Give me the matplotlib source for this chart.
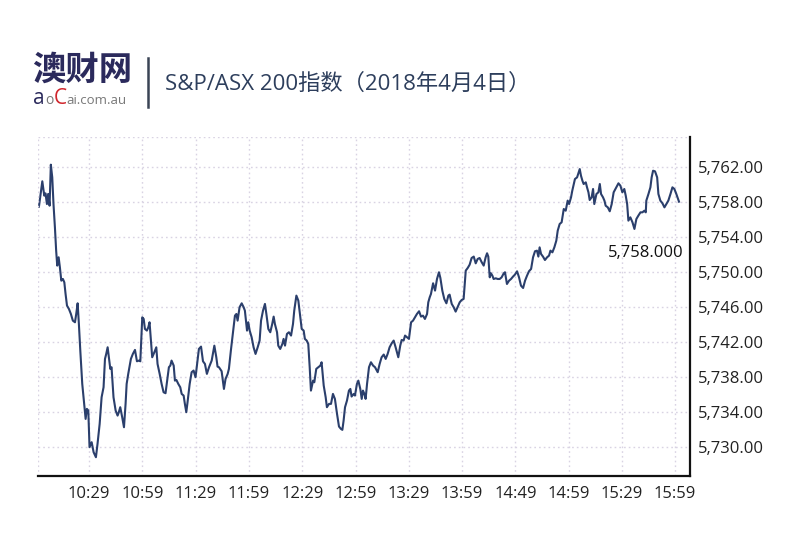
import matplotlib
matplotlib.use("Agg")
import matplotlib.pyplot as plt
from matplotlib.ticker import FuncFormatter

plt.rcParams['font.family'] = ['Open Sans', 'Noto Sans CJK SC', 'DejaVu Sans']

# minutes after 10:00 and index values
minutes = [
    0.7, 2.6, 3.7, 4.4, 5.2, 5.9, 6.7, 7.4, 8.2, 8.9, 9.7, 10.4, 11.0, 11.8, 12.5, 13.3, 14.2, 15.0, 15.7, 16.5,
    17.6, 18.7, 19.8, 21.0, 21.7, 22.5, 23.2, 24.0, 25.1, 26.2, 27.0, 27.7, 28.5, 29.2, 30.4, 31.5, 32.8, 33.7,
    34.9, 36.0, 37.1, 37.9, 38.6, 39.4, 40.1, 40.9, 41.6, 42.7, 43.9, 45.0, 45.7, 46.5, 47.6, 48.6, 49.5,
    50.1, 51.0, 52.5, 53.6, 54.8, 55.9, 57.0, 57.8, 58.9, 59.7, 60.4, 61.5, 62.3, 63.0, 63.8, 64.5, 65.7, 66.8,
    67.5, 68.7, 69.8, 70.9, 72.0, 73.2, 73.9, 74.7, 75.4, 76.6, 77.3, 78.1, 79.2, 80.3, 81.1, 82.2, 82.9, 83.7,
    84.4, 85.6, 86.7, 87.8, 88.9, 90.1, 90.8, 92.0, 93.1, 94.2, 95.3, 96.5, 98.0, 99.5, 100.6, 101.3,
    102.1, 103.6, 104.9, 105.8, 107.0, 107.7, 108.8, 110.0, 111.1, 111.9, 112.6, 113.7, 114.9, 116.0, 116.7,
    117.9, 118.6, 119.4, 120.5, 121.6, 122.7, 123.9, 125.0, 125.8, 126.9, 128.0, 128.8, 129.9, 131.0, 132.1,
    132.9, 133.6, 134.8, 135.5, 136.6, 137.8, 138.5, 139.3, 140.4, 141.5, 142.7, 143.8, 144.5, 145.7, 146.8,
    147.9, 148.7, 149.8, 150.5,
    151.5, 152.4, 153.2, 153.9, 155.1, 155.8, 156.9, 158.1, 159.2, 159.9, 161.1, 162.2, 162.9, 164.1, 165.2,
    166.3, 167.4, 168.6, 169.7, 170.8, 171.6, 172.3, 173.1, 174.2, 175.3, 176.1, 176.8, 178.0, 178.7, 179.8,
    180.6, 181.7, 182.5, 183.2, 184.0, 184.7, 185.5, 186.6, 187.7, 188.9, 190.0, 191.5, 192.6, 193.7, 194.9,
    196.0, 197.1, 198.2, 199.4, 200.5, 201.6,
    203.1, 204.2, 205.0, 206.1, 206.9, 208.0, 209.1, 210.3, 211.4, 212.5, 213.6, 214.8, 215.9, 217.0, 218.1,
    219.3, 220.0, 220.8, 221.5, 222.7, 223.8, 224.9, 226.0, 226.8, 227.9, 229.0, 230.2, 231.3, 232.0, 233.2,
    234.3, 235.4, 236.5, 237.7, 238.8, 239.9, 241.1, 242.2, 243.3, 244.4, 245.6, 246.7, 247.8, 248.9, 250.1,
    251.2, 252.3, 253.1, 253.8,
    254.6, 255.3, 256.1, 256.8, 258.0, 259.1, 260.2, 261.3, 262.5, 263.2, 264.3, 265.5, 266.6, 267.7, 268.8,
    270.0, 271.1, 272.2, 273.4, 274.5, 275.6, 276.7, 277.9, 279.0, 280.1, 281.2, 282.0, 282.7, 283.5, 284.6,
    285.7, 286.9, 288.0, 288.8, 289.9, 291.0, 292.1, 292.9, 294.0, 295.1, 296.3, 297.4, 298.5, 299.3, 300.4,
    301.1, 302.6, 303.8, 305.3,
    306.0, 306.8, 307.5, 308.7, 309.4, 310.2, 310.9, 312.0, 312.8, 313.5, 314.7, 315.8, 316.6, 317.3, 318.4,
    319.2, 319.9, 321.1, 322.2, 323.3, 324.4, 325.9, 327.1, 328.2, 329.3, 330.4, 331.2, 332.0, 332.7, 333.8,
    335.0, 336.1, 337.2, 338.3, 339.5, 340.6, 341.7, 342.5, 342.8, 344.0, 345.1, 345.8, 346.6, 347.7, 348.9,
    349.6, 350.7, 351.9, 353.0, 354.1, 355.2, 356.4, 357.5, 358.6, 359.7, 361.2,
]
values = [
    5757.43, 5760.33, 5758.69, 5758.95, 5757.73, 5758.88, 5757.54, 5762.23, 5760.78, 5757.73, 5755.07, 5752.40,
    5750.69, 5751.64, 5750.50, 5748.97, 5749.16, 5748.78, 5747.45, 5746.12, 5745.73, 5745.16, 5744.40, 5744.21,
    5745.16, 5746.38, 5744.02, 5740.97, 5737.16, 5734.88, 5733.16, 5734.31, 5734.12, 5729.93, 5730.50, 5729.35,
    5728.78, 5730.31, 5732.59, 5735.64, 5736.78, 5740.02, 5740.59, 5741.35, 5740.21, 5738.88, 5739.07, 5735.64,
    5734.12, 5733.54, 5733.93, 5734.50, 5733.35, 5732.21, 5734.88,
    5737.16, 5738.31, 5740.02, 5740.59, 5741.05, 5739.75, 5739.83, 5739.75, 5744.78, 5744.59, 5743.45, 5743.26,
    5743.64, 5744.21, 5742.12, 5740.21, 5740.78, 5741.35, 5739.45, 5738.31, 5737.16, 5736.21, 5736.10, 5737.93,
    5739.07, 5739.26, 5739.83, 5739.26, 5737.54, 5737.62, 5737.16, 5736.78, 5736.02, 5735.83, 5734.88, 5733.93,
    5735.07, 5737.16, 5738.50, 5738.69, 5737.93, 5740.02, 5741.16, 5741.43, 5739.75, 5739.45, 5738.31, 5739.07,
    5739.83, 5741.54, 5740.21, 5739.14,
    5739.07, 5738.61, 5736.59, 5737.73, 5738.31, 5738.88, 5740.97, 5743.07, 5744.97, 5745.16, 5744.40, 5745.93,
    5746.38, 5745.93, 5745.54, 5743.26, 5744.21, 5743.26, 5742.50, 5741.35, 5740.59, 5741.35, 5742.12, 5744.40,
    5745.54, 5746.31, 5745.16, 5743.45, 5743.07, 5744.02, 5744.86, 5744.02, 5743.07, 5741.54, 5741.16, 5741.73,
    5742.31, 5741.54, 5742.88, 5743.07, 5742.69, 5744.02, 5745.54, 5747.26, 5746.69, 5744.78, 5743.45, 5743.26,
    5742.31,
    5742.12, 5741.73, 5739.07, 5736.40, 5737.54, 5737.35, 5738.88, 5739.07, 5739.26, 5739.64, 5736.97, 5735.64,
    5734.50, 5734.88, 5734.88, 5736.02, 5735.45, 5733.73, 5732.29, 5732.02, 5731.91, 5732.97, 5734.50, 5735.26,
    5736.40, 5736.59, 5735.72, 5736.02, 5735.83, 5737.16, 5737.54, 5736.59, 5735.45, 5736.40, 5736.02, 5735.45,
    5737.16, 5739.07, 5739.64, 5739.26, 5739.07, 5738.50, 5739.45, 5740.21, 5740.52, 5740.02, 5740.59, 5741.35,
    5741.81, 5742.12, 5741.35,
    5740.21, 5741.54, 5742.19, 5742.12, 5742.69, 5742.50, 5742.31, 5744.21, 5744.40, 5744.78, 5745.16, 5745.47,
    5744.86, 5744.97, 5744.59, 5745.16, 5746.50, 5747.07, 5747.45, 5748.67, 5747.83, 5749.16, 5749.93, 5749.28,
    5747.83, 5746.88, 5746.38, 5747.26, 5747.37, 5746.31, 5745.93, 5745.43, 5745.93, 5746.50, 5746.76, 5746.88,
    5750.12, 5750.42, 5750.80, 5751.56, 5751.72, 5750.95, 5751.45, 5751.56, 5751.07, 5750.69, 5751.64, 5752.10,
    5751.72,
    5749.35, 5749.81, 5749.54, 5749.16, 5749.24, 5749.16, 5749.16, 5749.35, 5749.81, 5749.93, 5748.59, 5748.97,
    5749.16, 5749.43, 5749.66, 5750.04, 5749.35, 5748.40, 5748.13, 5748.97, 5749.54, 5750.04, 5750.31, 5751.64,
    5752.33, 5752.40, 5751.72, 5752.78, 5752.02, 5751.72, 5751.33, 5751.64, 5751.83, 5752.40, 5752.21, 5752.78,
    5753.54, 5754.69, 5755.45, 5755.64, 5757.16, 5756.97, 5758.12, 5757.73, 5758.50, 5759.26, 5760.59, 5760.78,
    5761.73,
    5760.97, 5760.40, 5760.02, 5760.21, 5759.64, 5759.07, 5758.19, 5758.50, 5759.45, 5757.73, 5758.88, 5759.07,
    5760.02, 5758.88, 5758.50, 5758.12, 5757.54, 5757.35, 5756.90, 5757.73, 5759.07, 5759.64, 5760.10, 5759.83,
    5759.07, 5759.45, 5758.69, 5757.73, 5755.83, 5756.21, 5755.64, 5754.88, 5756.02, 5756.40, 5756.78, 5756.78,
    5756.97, 5756.78, 5758.12, 5758.88, 5759.64, 5760.78, 5761.54, 5761.47, 5760.78, 5758.88, 5758.12, 5757.81,
    5757.35, 5757.73, 5758.12, 5758.88, 5759.64, 5759.45, 5758.88, 5758.00,
]

x_tick_minutes = [29, 59, 89, 119, 149, 179, 209, 239, 269, 299, 329, 359]
x_tick_labels = ["10:29", "10:59", "11:29", "11:59", "12:29", "12:59", "13:29", "13:59",
                 "14:49", "14:59", "15:29", "15:59"]
y_ticks = [5730, 5734, 5738, 5742, 5746, 5750, 5754, 5758, 5762]
last_label = "5,758.000"
title = "S&P/ASX 200指数（2018年4月4日）"

fig = plt.figure(figsize=(8, 5.5), dpi=100)
ax = fig.add_axes([0.048, 0.134, 0.8145, 0.617])

line_color = "#2b3f6c"
grid_color = "#d9d3e3"

ax.plot(minutes, values, color=line_color, lw=1.5, solid_joinstyle="round")

ax.set_xlim(0.4, 367.4)
ax.set_ylim(5726.6, 5765.4)

ax.set_xticks(x_tick_minutes)
ax.set_xticklabels(x_tick_labels)
ax.set_yticks(y_ticks)
ax.yaxis.set_major_formatter(FuncFormatter(lambda v, p: f"{v:,.2f}"))
ax.yaxis.tick_right()

ax.tick_params(axis="both", length=0, labelsize=12, colors="#222222")
ax.tick_params(axis="x", pad=7)
ax.tick_params(axis="y", pad=6)

ax.grid(True, color=grid_color, linestyle=(0, (1.2, 2.2)), linewidth=1.0)
ax.axvline(0.4, color=grid_color, linestyle=(0, (1.2, 2.2)), linewidth=1.0)
ax.axhline(5765.4, color=grid_color, linestyle=(0, (1.2, 2.2)), linewidth=1.0)

for s in ["left", "top"]:
    ax.spines[s].set_visible(False)
for s in ["right", "bottom"]:
    ax.spines[s].set_color("#111111")
    ax.spines[s].set_linewidth(1.6)

ax.annotate(last_label, xy=(minutes[-1], values[-1]), xytext=(3, -37),
            textcoords="offset points", ha="right", va="center",
            fontsize=12, color="#111111")

# header / logo
fig.text(0.040, 0.873, "澳财网", fontsize=24, fontweight="bold", color="#2b2a5c",
         ha="left", va="center", family=['Noto Sans CJK SC'])
fig.text(0.041, 0.811, "a", fontsize=15, color="#2b2a5c", ha="left", va="baseline")
fig.text(0.057, 0.811, "o", fontsize=10, color="#777777", ha="left", va="baseline")
fig.text(0.067, 0.811, "C", fontsize=15, color="#d0262d", ha="left", va="baseline")
fig.text(0.083, 0.811, "ai.com.au", fontsize=9.5, color="#777777", ha="left", va="baseline")
fig.add_artist(plt.Line2D([0.185, 0.185], [0.805, 0.895], transform=fig.transFigure,
                          color="#3a4455", lw=1.8))
fig.text(0.206, 0.846, title, fontsize=16, color="#2d3e5c", ha="left", va="center")

fig.savefig("out.png", dpi=100, facecolor="white")
